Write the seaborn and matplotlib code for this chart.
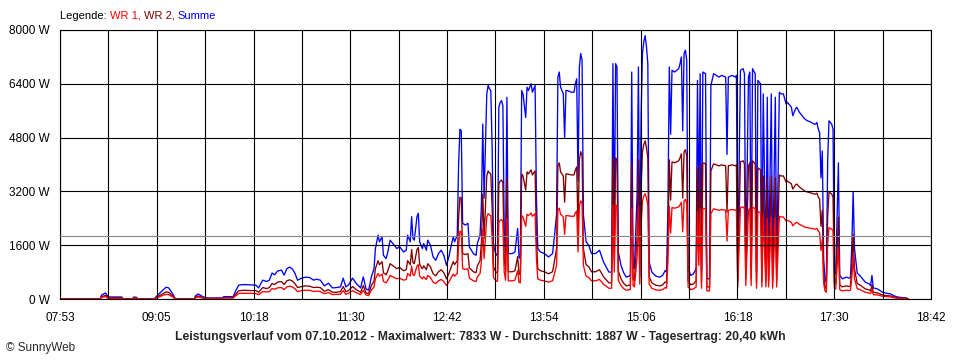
import numpy as np
import pandas as pd
import seaborn as sns
import matplotlib.pyplot as plt

minuten = [
    0, 30, 31, 34, 36, 46, 47, 54, 55, 57, 58, 70, 72, 75, 79, 81, 84, 86, 100, 101, 103, 105, 107, 110, 121, 122, 129, 131, 133,
    134, 138, 142, 146, 148, 151, 154, 156, 158, 160, 162, 165, 167, 169, 171, 173, 175, 177, 180, 183, 186, 189, 191, 194, 197, 200, 203, 206, 209, 211, 213, 215, 218, 221, 224,
    226, 228, 230, 232, 234, 235, 237, 238, 240, 241, 243, 244, 246, 247, 249, 251, 253, 256, 258, 259, 261, 262, 263, 264, 266, 267, 268, 270, 271, 273, 274, 276, 278, 280, 282, 284, 286, 288, 290, 291, 293, 294, 296,
    297, 298, 299, 300, 302, 304, 305, 308, 310, 311, 313, 314, 315, 316, 318, 319, 320, 321, 322, 323, 325, 326, 327, 328, 329, 330, 331, 332, 333, 334, 337, 339, 341, 342, 343,
    344, 345, 347, 348, 349, 351, 352, 354, 355, 356, 358, 361, 364, 367, 368, 370, 371, 372, 373, 375, 376, 377, 378, 381, 383, 384, 385, 386, 387, 388, 389, 390, 392, 394, 396, 399, 402, 405, 407, 409, 411,
    412, 413, 414, 415, 416, 418, 420, 422, 425, 426, 427, 428, 430, 431, 432, 433, 434, 435, 436, 437, 438, 439, 441, 444, 447, 449, 451, 452,
    453, 454, 455, 456, 458, 461, 462, 463, 464, 465, 466, 467, 468, 470, 472, 474, 475, 476, 477, 478, 479, 481, 482, 484, 485, 487, 489, 491, 493, 496, 497, 498, 501, 503, 504,
    505, 507, 509, 510, 511, 513, 514, 515, 516, 518, 519, 520, 522, 523, 524, 526, 527, 528, 530, 531, 533, 534, 536, 537, 539,
    541, 542, 544, 545, 546, 548, 549, 551, 553, 555, 557, 560, 562, 563, 564, 565, 566, 567, 568, 569, 570, 571, 572, 573, 575, 576, 577, 578, 580, 581, 583, 586, 588, 589, 590, 591, 592, 594, 596, 598, 600, 603, 604, 605, 606, 609, 611, 613, 616, 619, 621, 624, 628, 631, 632,
]

wr1 = [
    0, 0, 50, 70, 20, 20, 0, 0, 20, 20, 0, 0, 30, 80, 140, 130, 60, 0, 0, 40, 60, 40, 20, 10, 10, 30, 30, 100, 160,
    170, 170, 170, 160, 130, 220, 210, 220, 310, 290, 330, 340, 280, 360, 380, 360, 310, 220, 250, 260, 260, 220, 240, 220, 160, 190, 130, 140, 140, 250, 140, 170, 250, 180, 130,
    260, 120, 100, 260, 360, 600, 760, 680, 740, 520, 480, 540, 700, 680, 640, 600, 620, 560, 580, 760, 680, 980, 720, 700, 980, 1020, 680, 600, 660, 580, 700, 640, 500, 460, 540, 580, 520, 400, 520, 600, 740, 680, 760,
    1600, 2020, 2000, 900, 880, 900, 620, 540, 520, 660, 760, 1120, 2080, 1200, 2440, 2540, 2500, 2480, 1800, 640, 520, 540, 2280, 2340, 2360, 2300, 800, 560, 2400, 540, 540, 560, 840, 500, 480,
    2480, 2440, 2160, 2520, 2480, 2560, 2460, 2540, 1200, 600, 560, 540, 500, 540, 680, 1000, 2640, 2700, 2520, 2440, 1920, 2480, 2480, 2460, 2460, 2560, 2620, 1400, 2760, 2920, 2840, 1000, 680, 640, 540, 540, 580, 440, 380, 320, 320,
    2800, 800, 2800, 2760, 560, 400, 310, 260, 280, 2700, 400, 360, 1240, 2760, 440, 2200, 2920, 3060, 3130, 3000, 2800, 440, 320, 270, 260, 280, 340, 320,
    1120, 2760, 1960, 2720, 2700, 2740, 2800, 2880, 2000, 2920, 2960, 2840, 360, 280, 300, 360, 2600, 1000, 2680, 320, 2700, 2680, 240, 240, 2540, 2680, 2660, 2640, 2660, 2640, 1720, 2640, 2660, 2640, 2660,
    360, 2720, 2740, 2680, 400, 2640, 2700, 400, 2740, 2680, 320, 2600, 2560, 360, 2440, 360, 2400, 360, 2440, 320, 2400, 360, 2460, 2440, 2440,
    2320, 2340, 2300, 2280, 2180, 2260, 2280, 2220, 2180, 2140, 2120, 2100, 2080, 2080, 2100, 2020, 1980, 1440, 1760, 480, 240, 200, 1640, 2120, 2080, 2020, 320, 300, 1620, 280, 240, 260, 250, 260, 640, 1280, 600, 310, 280, 240, 200, 180, 160, 280, 130, 120, 100, 80, 70, 60, 40, 20, 20, 10, 0,
]

wr2 = [
    0, 0, 70, 110, 40, 40, 0, 0, 40, 30, 0, 0, 50, 120, 210, 200, 90, 0, 0, 60, 90, 60, 40, 20, 20, 40, 40, 150, 240,
    250, 260, 250, 250, 200, 340, 310, 340, 460, 430, 500, 520, 430, 540, 570, 540, 460, 340, 370, 390, 380, 340, 350, 340, 230, 280, 200, 200, 220, 370, 220, 250, 370, 270, 200,
    400, 180, 160, 400, 540, 900, 1140, 1020, 1110, 780, 720, 810, 1050, 1020, 960, 900, 940, 840, 870, 1140, 1020, 1470, 1080, 1050, 1470, 1530, 1020, 900, 990, 870, 1050, 960, 750, 690, 810, 870, 780, 600, 780, 900, 1110, 1020, 1140,
    2400, 3030, 3000, 1350, 1320, 1350, 930, 810, 780, 990, 1140, 1680, 3120, 1800, 3660, 3810, 3750, 3720, 2700, 960, 780, 810, 3420, 3510, 3540, 3450, 1200, 840, 3600, 810, 810, 840, 1260, 750, 720,
    3720, 3660, 3240, 3780, 3720, 3840, 3690, 3810, 1800, 900, 840, 810, 750, 810, 1020, 1500, 3960, 4050, 3780, 3660, 2880, 3720, 3720, 3690, 3690, 3840, 3930, 2100, 4140, 4380, 4260, 1500, 1020, 960, 810, 810, 870, 660, 570, 480, 480,
    4200, 1200, 4200, 4140, 840, 600, 470, 390, 420, 4050, 600, 540, 1860, 4140, 660, 3300, 4380, 4590, 4703, 4500, 4200, 660, 480, 410, 390, 420, 510, 480,
    1680, 4140, 2940, 4080, 4050, 4110, 4200, 4320, 3000, 4380, 4440, 4260, 540, 420, 450, 540, 3900, 1500, 4020, 480, 4050, 4020, 360, 360, 3810, 4020, 3990, 3960, 3990, 3960, 2580, 3960, 3990, 3960, 3990,
    540, 4080, 4110, 4020, 600, 3960, 4050, 600, 4110, 4020, 480, 3900, 3840, 540, 3660, 540, 3600, 540, 3660, 480, 3600, 540, 3690, 3660, 3660,
    3480, 3510, 3450, 3420, 3270, 3390, 3420, 3330, 3270, 3210, 3180, 3150, 3120, 3120, 3150, 3030, 2970, 2160, 2640, 720, 360, 300, 2460, 3180, 3120, 3030, 480, 450, 2430, 420, 360, 390, 370, 390, 960, 1920, 900, 460, 420, 360, 300, 270, 240, 420, 200, 180, 150, 120, 100, 90, 60, 40, 20, 20, 0,
]

durchschnitt = 1887
y_ticks = [0, 1600, 3200, 4800, 6400, 8000]
y_labels = ["0 W", "1600 W", "3200 W", "4800 W", "6400 W", "8000 W"]
x_labels = ["07:53", "09:05", "10:18", "11:30", "12:42", "13:54", "15:06", "16:18", "17:30", "18:42"]
titel = ("Leistungsverlauf vom 07.10.2012 - Maximalwert: 7833 W - "
         "Durchschnitt: 1887 W - Tagesertrag: 20,40 kWh")

start = 7 * 60 + 53
ende = 18 * 60 + 42

summe = [a + b for a, b in zip(wr1, wr2)]
zeit = [start + m for m in minuten]

df = pd.concat([
    pd.DataFrame({"zeit": zeit, "leistung": summe, "serie": "Summe"}),
    pd.DataFrame({"zeit": zeit, "leistung": wr2, "serie": "WR 2"}),
    pd.DataFrame({"zeit": zeit, "leistung": wr1, "serie": "WR 1"}),
])

sns.set_style("white")
plt.rcParams["font.family"] = ["Liberation Sans", "DejaVu Sans"]

fig = plt.figure(figsize=(9.6, 3.6), dpi=100)
ax = fig.add_axes([60 / 960, 61 / 360, 871 / 960, 269 / 360])

farben = {"Summe": "#0000ff", "WR 2": "#800000", "WR 1": "#ff0000"}
sns.lineplot(data=df, x="zeit", y="leistung", hue="serie",
             hue_order=["Summe", "WR 2", "WR 1"], palette=farben,
             estimator=None, sort=False, legend=False, linewidth=0.95,
             ax=ax, zorder=2)

# Gitter liegt über den Kurven
gitter_x = np.linspace(start, ende, 19)
for x in gitter_x:
    ax.axvline(x, color="black", lw=0.8, zorder=3)
for y in y_ticks:
    ax.axhline(y, color="black", lw=0.8, zorder=3)
ax.axhline(durchschnitt, color="#888888", lw=0.8, zorder=4)

ax.set_xlim(start, ende)
ax.set_ylim(0, 8000)
ax.set_xticks(gitter_x)
ax.set_xticklabels([x_labels[i // 2] if i % 2 == 0 else "" for i in range(19)])
ax.set_yticks(y_ticks)
ax.set_yticklabels(y_labels)
ax.set_xlabel("")
ax.set_ylabel("")
ax.tick_params(axis="x", direction="out", length=4.5, width=0.8, pad=5,
               labelsize=8.5, colors="black")
ax.tick_params(axis="y", direction="out", length=5.5, width=0.8, pad=2,
               labelsize=8.5, colors="black")
for s in ax.spines.values():
    s.set_color("black")
    s.set_linewidth(0.8)

# Legende oben als farbiger Text
t1 = fig.text(60 / 960, 1 - 16 / 360, "Legende: ", fontsize=8, va="center", color="black")
t2 = ax.annotate("WR 1, ", xy=(1, 0.5), xycoords=t1, va="center", fontsize=8, color="#ff0000",
                 annotation_clip=False)
t3 = ax.annotate("WR 2, ", xy=(1, 0.5), xycoords=t2, va="center", fontsize=8, color="#800000",
                 annotation_clip=False)
ax.annotate("Summe", xy=(1, 0.5), xycoords=t3, va="center", fontsize=8, color="#0000ff",
            annotation_clip=False)

fig.text(0.5, 1 - 337 / 360, titel, ha="center", va="center", fontsize=8.8, fontweight="bold")
fig.text(6 / 960, 1 - 348 / 360, "© SunnyWeb", va="center", fontsize=8.5)

fig.savefig("out.png", dpi=100)
